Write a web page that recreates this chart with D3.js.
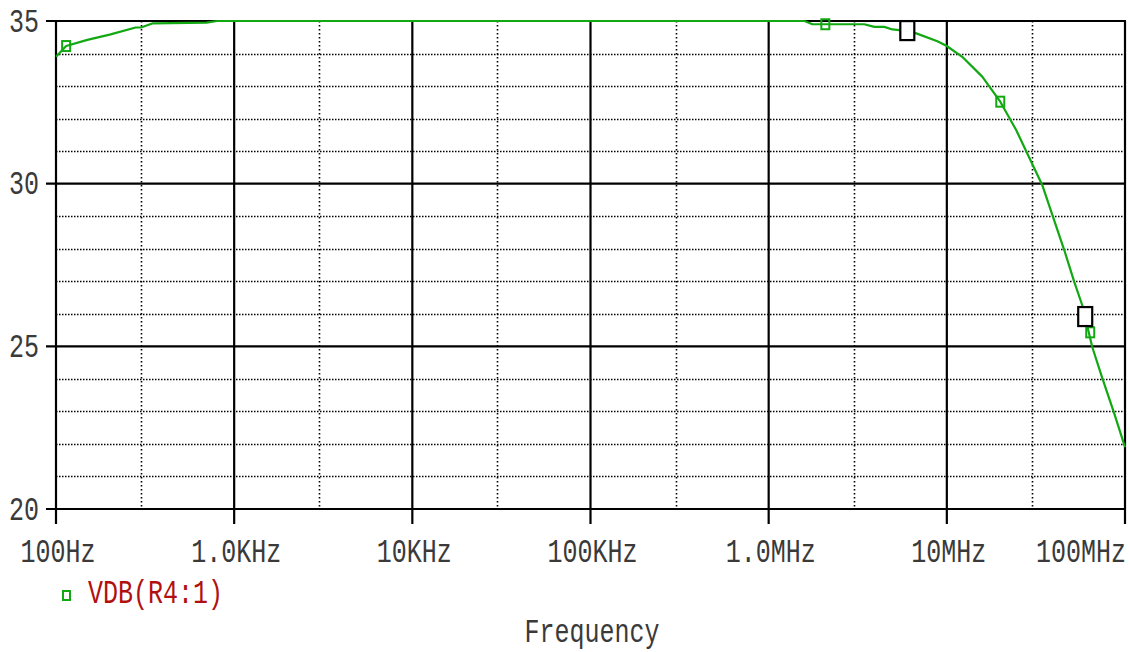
<!DOCTYPE html>
<html>
<head>
<meta charset="utf-8">
<script src="https://cdn.jsdelivr.net/npm/d3@7"></script>
<style>
  html, body { margin: 0; padding: 0; background: #fff; }
  svg { display: block; }
  text { font-family: "Liberation Mono", "DejaVu Sans Mono", monospace; }
</style>
</head>
<body>
<svg id="chart" width="1130" height="652"></svg>
<script>
// Frequency response trace: VDB(R4:1)
const freqHz = [100, 114, 150, 200, 280, 300, 350, 700, 800,
  1.59e6, 1.76e6, 3.44e6, 3.92e6, 4.46e6, 4.95e6, 5.41e6, 6.74e6, 8.85e6, 9.94e6,
  12.2e6, 15.8e6, 19.95e6, 24.5e6, 34.3e6, 45.6e6, 51.9e6, 57.5e6, 65.5e6, 74.5e6, 86.9e6, 1e8];
const vdb = [33.9, 34.23, 34.42, 34.58, 34.8, 34.8, 34.93, 34.95, 35.0,
  35.0, 34.9, 34.9, 34.82, 34.82, 34.74, 34.72, 34.62, 34.38, 34.24,
  33.9, 33.29, 32.52, 31.65, 29.96, 27.96, 26.98, 26.27, 24.98, 24.03, 22.95, 21.9];

// Trace symbols
const symbolFreq = [114, 2.08e6, 19.95e6, 63.8e6];
const symbolVdb = [34.23, 34.9, 32.52, 25.43];

// Cursor marks
const cursorFreq = [6.0e6, 59.8e6];
const cursorVdb = [34.69, 25.9];

// Axis ticks
const xMajor = [100, 1e3, 1e4, 1e5, 1e6, 1e7, 1e8];
const xMajorLabels = ["100Hz", "1.0KHz", "10KHz", "100KHz", "1.0MHz", "10MHz", "100MHz"];
const xMinor = [300, 3e3, 3e4, 3e5, 3e6, 3e7];
const yMajor = [20, 25, 30, 35];
const yMinor = [21, 22, 23, 24, 26, 27, 28, 29, 31, 32, 33, 34];

const legendLabel = "VDB(R4:1)";
const xTitle = "Frequency";

const plotLeft = 56, plotRight = 1125, plotTop = 21, plotBottom = 509;
const x = d3.scaleLog().domain([100, 1e8]).range([plotLeft, plotRight]);
const y = d3.scaleLinear().domain([20, 35]).range([plotBottom, plotTop]);

const svg = d3.select("#chart");
const green = "#12a812";
const textColor = "#3a3a3a";
const sy = 1.3; // tall, narrow label glyphs

// dotted minor grid
const g = svg.append("g");
g.selectAll(".hminor").data(yMinor).join("line")
  .attr("x1", plotLeft).attr("x2", plotRight)
  .attr("y1", d => Math.round(y(d)) + 0.5).attr("y2", d => Math.round(y(d)) + 0.5)
  .attr("stroke", "#000").attr("stroke-width", 1.6).attr("stroke-dasharray", "1.5 1.5");
g.selectAll(".vminor").data(xMinor).join("line")
  .attr("x1", d => Math.round(x(d)) + 0.5).attr("x2", d => Math.round(x(d)) + 0.5)
  .attr("y1", plotTop).attr("y2", plotBottom)
  .attr("stroke", "#000").attr("stroke-width", 1.6).attr("stroke-dasharray", "1.5 2.5");

// solid major grid with outward ticks
g.selectAll(".hmajor").data(yMajor).join("line")
  .attr("x1", plotLeft - 10).attr("x2", plotRight + 1)
  .attr("y1", d => y(d)).attr("y2", d => y(d))
  .attr("stroke", "#000").attr("stroke-width", 2.2);
g.selectAll(".vmajor").data(xMajor).join("line")
  .attr("x1", d => x(d)).attr("x2", d => x(d))
  .attr("y1", plotTop).attr("y2", plotBottom + 15)
  .attr("stroke", "#000").attr("stroke-width", 2.2);

// y tick labels
svg.selectAll(".ylab").data(yMajor).join("text")
  .attr("transform", d => `translate(39,${y(d) + 10.5}) scale(1,${sy})`)
  .attr("text-anchor", "end")
  .attr("font-size", 25).attr("fill", textColor)
  .text(d => d);

// x tick labels
svg.selectAll(".xlab").data(xMajor).join("text")
  .attr("transform", d => `translate(${d === 1e8 ? plotRight + 1 : x(d) + 2},${561.5}) scale(1,${sy})`)
  .attr("text-anchor", d => d === 1e8 ? "end" : "middle")
  .attr("font-size", 25).attr("fill", textColor)
  .text((d, i) => xMajorLabels[i]);

// trace
const line = d3.line().x(d => x(d[0])).y(d => y(d[1]));
const pts = freqHz.map((f, i) => [f, vdb[i]]);
svg.append("path").datum(pts)
  .attr("d", line).attr("fill", "none")
  .attr("stroke", green).attr("stroke-width", 2.2).attr("stroke-linejoin", "round");

// trace symbols
svg.selectAll(".sym").data(symbolFreq).join("rect")
  .attr("x", d => x(d) - 4).attr("y", (d, i) => y(symbolVdb[i]) - 5)
  .attr("width", 8).attr("height", 10)
  .attr("fill", "none").attr("stroke", green).attr("stroke-width", 2);

// cursor marks
svg.selectAll(".cur").data(cursorFreq).join("rect")
  .attr("x", d => x(d) - 7).attr("y", (d, i) => y(cursorVdb[i]) - 10)
  .attr("width", 14).attr("height", 19)
  .attr("fill", "#fff").attr("stroke", "#000").attr("stroke-width", 2.2);

// legend
svg.append("rect").attr("x", 63).attr("y", 591).attr("width", 7).attr("height", 9)
  .attr("fill", "none").attr("stroke", green).attr("stroke-width", 2);
svg.append("text")
  .attr("transform", `translate(88,602.5) scale(1,${sy})`)
  .attr("font-size", 25).attr("fill", "#b01010")
  .text(legendLabel);

// axis title
svg.append("text")
  .attr("transform", `translate(592,641.5) scale(1,${sy})`)
  .attr("text-anchor", "middle")
  .attr("font-size", 25).attr("fill", textColor)
  .text(xTitle);
</script>
</body>
</html>
